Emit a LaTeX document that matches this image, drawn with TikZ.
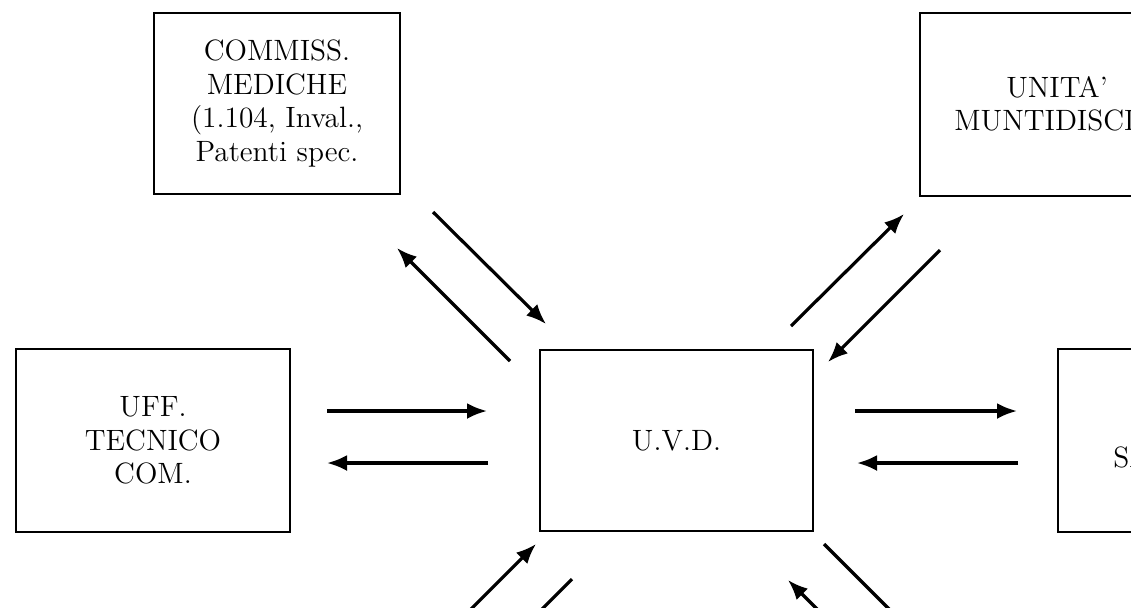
\documentclass[tikz,border=0pt]{standalone}
\usetikzlibrary{arrows.meta}
\tikzset{
  riquadro/.style={draw,line width=1pt,inner sep=0pt,align=center,
    minimum width=137pt,minimum height=91.5pt,font=\fontsize{14.7}{16.8}\selectfont},
  freccia/.style={line width=1.6pt,-{Latex[length=10pt,width=8pt]}}
}
\begin{document}
\begin{tikzpicture}[x=0.5pt,y=-0.5pt]
    \path[use as bounding box,clip] (0,0) rectangle (1131,607);

    %Riquadri
    \node[riquadro,minimum width=123pt,minimum height=90.5pt] (comm) at (277,103.5)
        {COMMISS.\\MEDICHE\\(1.104, Inval.,\\Patenti spec.};
    \node[riquadro] (unita) at (1057,104) {UNITA'\\MUNTIDISCIP.};
    \node[riquadro] (uff) at (153,440.5) {UFF.\\TECNICO\\COM.};
    \node[riquadro,minimum width=136.5pt,minimum height=90.5pt] (uvd) at (676.5,440.5) {U.V.D.};
    \node[riquadro] (serv) at (1195,440.5) {SERV.\\SANITARIO};

    %Frecce in alto
    \draw[freccia] ([shift={(32,17)}]comm.south east) -- ([shift={(7,-25)}]uvd.north west);
    \draw[freccia] ([shift={(-29,12)}]uvd.north west) -- ([shift={(-4,53)}]comm.south east);
    \draw[freccia] ([shift={(-23,-23)}]uvd.north east) -- ([shift={(-15,17.5)}]unita.south west);
    \draw[freccia] ([shift={(21,53.5)}]unita.south west) -- ([shift={(14,13)}]uvd.north east);

    %Frecce orizzontali
    \draw[freccia] ([shift={(36,-29.5)}]uff.east) -- ([shift={(-52,-29.5)}]uvd.west);
    \draw[freccia] ([shift={(-51,22.5)}]uvd.west) -- ([shift={(36,22.5)}]uff.east);
    \draw[freccia] ([shift={(41,-29.5)}]uvd.east) -- ([shift={(-40,-29.5)}]serv.west);
    \draw[freccia] ([shift={(-39,22.5)}]serv.west) -- ([shift={(43,22.5)}]uvd.east);

    %Frecce in basso
    \coordinate (giu1) at (422,658);
    \coordinate (giu2) at (458,693);
    \coordinate (giu3) at (902,694);
    \coordinate (giu4) at (938,658);
    \draw[freccia] (giu1) -- ([shift={(-3,12)}]uvd.south west);
    \draw[freccia] ([shift={(33,47)}]uvd.south west) -- (giu2);
    \draw[freccia] (giu3) -- ([shift={(-26,48)}]uvd.south east);
    \draw[freccia] ([shift={(10,12)}]uvd.south east) -- (giu4);
\end{tikzpicture}
\end{document}
